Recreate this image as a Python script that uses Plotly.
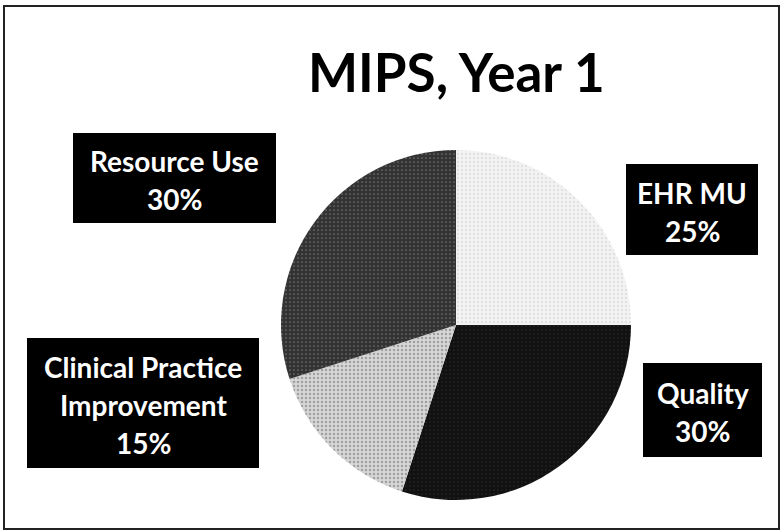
import plotly.graph_objects as go

# ---- data ----
categories = ["EHR MU", "Quality", "Clinical Practice Improvement", "Resource Use"]
label_lines = [["EHR MU"], ["Quality"], ["Clinical Practice", "Improvement"], ["Resource Use"]]
values = [25, 30, 15, 30]
title_text = "MIPS, Year 1"

# ---- styling ----
W, H = 782, 531
slice_bg = ["#f2f2f2", "#111111", "#d6d6d6", "#333333"]
slice_fg = ["#9a9a9a", "#8a8a8a", "#6a6a6a", "#b0b0b0"]
slice_solidity = [0.12, 0.05, 0.3, 0.15]
FONT = "Lato"

def px(x):
    return x / W

def py(y):
    return 1 - y / H

# pie geometry (pixels)
cx, cy, r = 456, 325, 175

fig = go.Figure()
fig.add_trace(go.Pie(
    labels=categories,
    values=values,
    sort=False,
    direction="clockwise",
    rotation=0,
    textinfo="none",
    hoverinfo="label+percent",
    showlegend=False,
    marker=dict(
        colors=slice_bg,
        line=dict(width=0),
        pattern=dict(shape=".", fgcolor=slice_fg, bgcolor=slice_bg,
                     size=4, solidity=slice_solidity, fillmode="overlay"),
    ),
    domain=dict(x=[px(cx - r), px(cx + r)], y=[py(cy + r), py(cy - r)]),
))

# label boxes (pixel rectangles: x0, y0, x1, y1)
boxes = [
    (626, 164, 758, 255),   # EHR MU
    (643, 363, 762, 457),   # Quality
    (27, 338, 259, 468),    # Clinical Practice Improvement
    (73, 133, 276, 223),    # Resource Use
]
line_gap = 38
shapes = []
annotations = []
for lines, val, (x0, y0, x1, y1) in zip(label_lines, values, boxes):
    shapes.append(dict(type="rect", xref="paper", yref="paper",
                       x0=px(x0), x1=px(x1), y0=py(y1), y1=py(y0),
                       fillcolor="black", line=dict(width=0), layer="above"))
    all_lines = lines + [f"{val}%"]
    n = len(all_lines)
    mid = (y0 + y1) / 2 + 2
    for i, t in enumerate(all_lines):
        yc = mid + (i - (n - 1) / 2) * line_gap
        annotations.append(dict(text=f"<b>{t}</b>", x=px((x0 + x1) / 2), y=py(yc),
                                xref="paper", yref="paper",
                                xanchor="center", yanchor="middle",
                                showarrow=False,
                                font=dict(family=FONT, size=28, color="white")))

# outer border
shapes.append(dict(type="rect", xref="paper", yref="paper",
                   x0=px(4), x1=px(779), y0=py(529), y1=py(6),
                   line=dict(color="#222222", width=2), fillcolor="rgba(0,0,0,0)"))

# title
annotations.append(dict(text=f"<b>{title_text}</b>", x=px(456), y=py(71),
                        xref="paper", yref="paper", xanchor="center", yanchor="middle",
                        showarrow=False,
                        font=dict(family=FONT, size=53, color="black")))

fig.update_layout(
    width=W, height=H,
    margin=dict(l=0, r=0, t=0, b=0),
    paper_bgcolor="white",
    plot_bgcolor="white",
    shapes=shapes,
    annotations=annotations,
)

fig.write_html("out.html")
